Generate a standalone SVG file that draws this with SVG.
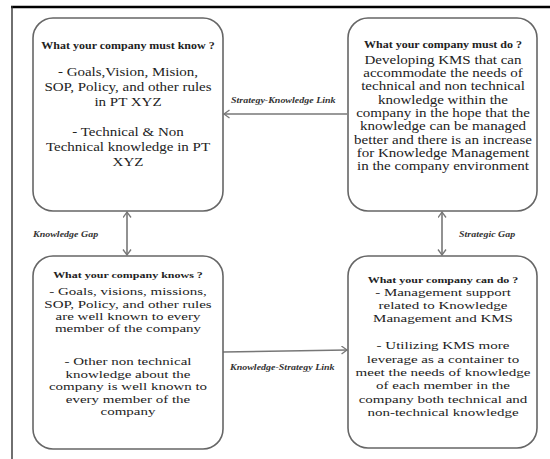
<svg xmlns="http://www.w3.org/2000/svg" width="550" height="459" viewBox="0 0 550 459">
<defs>
<style>
.box{fill:#fff;stroke:#666;stroke-width:1.6}
.t{font-family:"Liberation Serif","Times New Roman",serif;font-size:15px;fill:#222;text-anchor:middle}
.h{font-family:"Liberation Serif","Times New Roman",serif;font-size:12px;font-weight:bold;fill:#222;text-anchor:middle}
.lbl{font-family:"Liberation Serif","Times New Roman",serif;font-size:10px;font-weight:bold;font-style:italic;fill:#333}
.con{fill:none;stroke:#777;stroke-width:1.6}
</style>
<marker id="arr" markerUnits="userSpaceOnUse" markerWidth="10" markerHeight="10" viewBox="0 0 10 10" refX="6" refY="4.5" orient="auto-start-reverse">
<path d="M0.5,0.5 L6,4.5 L0.5,8.5" fill="none" stroke="#777" stroke-width="1.3"/>
</marker>
</defs>
<rect width="550" height="459" fill="#fff"/>
<g id="frame">
<line x1="11" y1="7" x2="550" y2="7" stroke="#000" stroke-width="2.5"/>
<line x1="12" y1="6" x2="12" y2="459" stroke="#333" stroke-width="1.4"/>
</g>
<g id="connectors">
<line class="con" x1="347" y1="114" x2="224" y2="114" marker-end="url(#arr)"/>
<line class="con" x1="127" y1="212" x2="127" y2="255" marker-start="url(#arr)" marker-end="url(#arr)"/>
<line class="con" x1="442" y1="212" x2="442" y2="255" marker-start="url(#arr)" marker-end="url(#arr)"/>
<line class="con" x1="223" y1="352" x2="347" y2="350" marker-end="url(#arr)"/>
<text class="lbl" transform="translate(231,103) scale(1,0.9)">Strategy-Knowledge Link</text>
<text class="lbl" transform="translate(33,237) scale(1,0.9)">Knowledge Gap</text>
<text class="lbl" transform="translate(459,237) scale(1,0.9)">Strategic Gap</text>
<text class="lbl" transform="translate(230,370) scale(1,0.9)">Knowledge-Strategy Link</text>
</g>
<g id="must-know">
<rect class="box" x="33" y="18" width="190" height="193" rx="20"/>
<text class="h" transform="translate(128,49) scale(1,0.85)">What your company must know ?</text>
<text class="t" transform="translate(128,76) scale(1,0.85)">- Goals,Vision, Mision,</text>
<text class="t" transform="translate(128,91) scale(1,0.85)">SOP, Policy, and other rules</text>
<text class="t" transform="translate(128,106) scale(1,0.85)">in PT XYZ</text>
<text class="t" transform="translate(128,136) scale(1,0.85)">- Technical &amp; Non</text>
<text class="t" transform="translate(128,151) scale(1,0.85)">Technical knowledge in PT</text>
<text class="t" transform="translate(128,166) scale(1,0.85)">XYZ</text>
</g>
<g id="must-do">
<rect class="box" x="348" y="18" width="189" height="193" rx="20"/>
<text class="h" transform="translate(443,47.5) scale(1,0.8)">What your company must do ?</text>
<text class="t" transform="translate(443,63.5) scale(1,0.8)">Developing KMS that can</text>
<text class="t" transform="translate(443,77) scale(1,0.8)">accommodate the needs of</text>
<text class="t" transform="translate(443,90) scale(1,0.8)">technical and non technical</text>
<text class="t" transform="translate(443,103.5) scale(1,0.8)">knowledge within the</text>
<text class="t" transform="translate(443,117) scale(1,0.8)">company in the hope that the</text>
<text class="t" transform="translate(443,130) scale(1,0.8)">knowledge can be managed</text>
<text class="t" transform="translate(443,143.5) scale(1,0.8)">better and there is an increase</text>
<text class="t" transform="translate(443,157) scale(1,0.8)">for Knowledge Management</text>
<text class="t" transform="translate(443,170) scale(1,0.8)">in the company environment</text>
</g>
<g id="knows">
<rect class="box" x="33" y="256" width="190" height="193" rx="20"/>
<text class="h" transform="translate(128,277.5) scale(1,0.73)">What your company knows ?</text>
<text class="t" transform="translate(128,295) scale(1,0.73)">- Goals, visions, missions,</text>
<text class="t" transform="translate(128,307.5) scale(1,0.73)">SOP, Policy, and other rules</text>
<text class="t" transform="translate(128,319.5) scale(1,0.73)">are well known to every</text>
<text class="t" transform="translate(128,331.5) scale(1,0.73)">member of the company</text>
<text class="t" transform="translate(128,365) scale(1,0.73)">- Other non technical</text>
<text class="t" transform="translate(128,377.5) scale(1,0.73)">knowledge about the</text>
<text class="t" transform="translate(128,390) scale(1,0.73)">company is well known to</text>
<text class="t" transform="translate(128,402.5) scale(1,0.73)">every member of the</text>
<text class="t" transform="translate(128,415) scale(1,0.73)">company</text>
</g>
<g id="can-do">
<rect class="box" x="348" y="256" width="189" height="192" rx="20"/>
<text class="h" transform="translate(443,283) scale(1,0.76)">What your company can do ?</text>
<text class="t" transform="translate(443,296) scale(1,0.76)">- Management support</text>
<text class="t" transform="translate(443,309) scale(1,0.76)">related to Knowledge</text>
<text class="t" transform="translate(443,322) scale(1,0.76)">Management and KMS</text>
<text class="t" transform="translate(443,349) scale(1,0.76)">- Utilizing KMS more</text>
<text class="t" transform="translate(443,362.5) scale(1,0.76)">leverage as a container to</text>
<text class="t" transform="translate(443,376) scale(1,0.76)">meet the needs of knowledge</text>
<text class="t" transform="translate(443,389) scale(1,0.76)">of each member in the</text>
<text class="t" transform="translate(443,402.5) scale(1,0.76)">company both technical and</text>
<text class="t" transform="translate(443,416) scale(1,0.76)">non-technical knowledge</text>
</g>
</svg>
